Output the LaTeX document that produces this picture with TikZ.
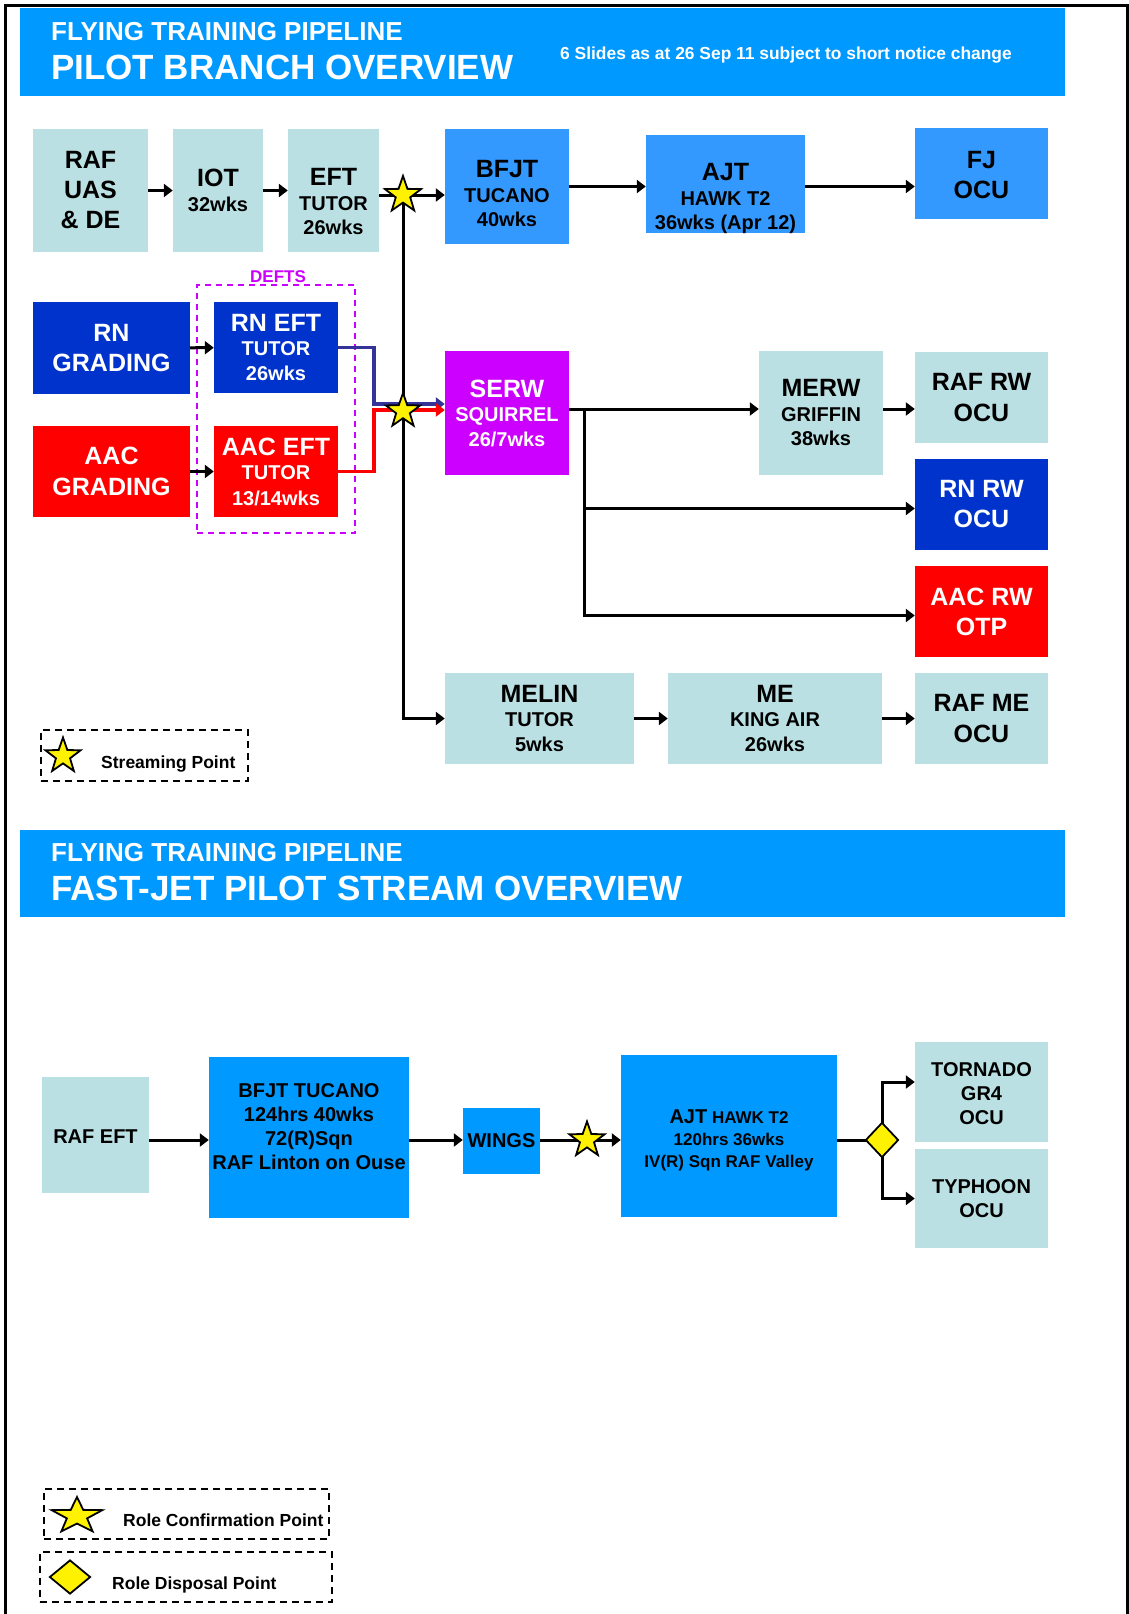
\documentclass[tikz,border=0pt]{standalone}
\usepackage{fontspec}
\setmainfont{Liberation Sans}
\usepackage{xcolor}
\usepackage{tikz}
\usetikzlibrary{arrows.meta,shapes.geometric,positioning}

\definecolor{hdrblue}{RGB}{0,153,255}
\definecolor{jetblue}{RGB}{51,153,255}
\definecolor{pale}{RGB}{187,224,227}
\definecolor{navyblue}{RGB}{0,51,204}
\definecolor{serwpink}{RGB}{204,0,255}
\definecolor{linkblue}{RGB}{51,51,153}

\newcommand\bigtxt{\fontsize{25}{30}\selectfont}
\newcommand\midtxt{\fontsize{20}{24}\selectfont}
\newcommand\smltxt{\fontsize{17}{22}\selectfont}

\tikzset{
  sz/.style 2 args={minimum width=#1,minimum height=#2},
  box/.style={rectangle,inner sep=0pt,align=center,font=\bfseries\midtxt},
  txt/.style={inner sep=0pt,align=center,font=\bfseries\midtxt},
  hdr/.style={rectangle,inner sep=0pt,fill=hdrblue},
  flow/.style={line width=3pt,-{Triangle[length=9pt,width=13pt]}},
  spoint/.style={star,star points=5,star point ratio=2.5,draw=black,fill=yellow,line width=1.8pt,minimum size=38pt,inner sep=0pt},
  dpoint/.style={diamond,draw=black,fill=yellow,line width=1.8pt,inner sep=0pt},
  legbox/.style={rectangle,draw=black,line width=2pt,dash pattern=on 7pt off 5pt,inner sep=0pt},
  legtxt/.style={anchor=base west,inner sep=0pt,font=\bfseries\fontsize{17.5}{20}\selectfont}
}

\begin{document}
\begin{tikzpicture}[x=1pt,y=-1pt]
\useasboundingbox (0,0) rectangle (1129,1614);
\draw[line width=3pt] (5,1614)--(5,5)--(1127,5)--(1127,1614);

% pilot branch header
\node[hdr,sz={1045pt}{88pt}] (hdr1) at (542.5,52) {};
\node[anchor=base west,inner sep=0pt,text=white,font=\bfseries\fontsize{26}{30}\selectfont] (hdr1a) at (51,40.3) {FLYING TRAINING PIPELINE};
\node[anchor=base west,inner sep=0pt,text=white,font=\bfseries\fontsize{35}{40}\selectfont] (hdr1b) at (51,79.5) {PILOT BRANCH OVERVIEW};
\node[anchor=base west,inner sep=0pt,text=white,font=\bfseries\fontsize{17.4}{20}\selectfont] (hdr1c) at (560,59.5) {6 Slides as at 26 Sep 11 subject to short notice change};

% top row
\node[box,fill=pale,sz={115pt}{123pt}] (raf) at (90.5,190.5) {\bigtxt RAF\\[6pt]\bigtxt UAS\\[6pt]\bigtxt \& DE};
\node[box,fill=pale,sz={90pt}{123pt}] (iot) at (218,190.5) {\bigtxt IOT\\[1pt]32wks};
\node[box,fill=pale,sz={91pt}{123pt}] (eft) at (333.5,190.5) {};
\node[txt] (eftt) at ([yshift=-11pt]eft) {\bigtxt EFT\\[1pt]TUTOR\\26wks};
\node[box,fill=jetblue,sz={124pt}{115pt}] (bfjt) at (507,186.5) {};
\node[txt] (bfjtt) at ([yshift=-7pt]bfjt) {\bigtxt BFJT\\[1pt]TUCANO\\40wks};
\node[box,fill=jetblue,sz={159pt}{98pt}] (ajt) at (725.5,184) {};
\node[txt] (ajtt) at ([yshift=-14pt]ajt) {\bigtxt AJT\\[1pt]HAWK T2\\36wks (Apr 12)};
\node[box,fill=jetblue,sz={133pt}{91pt}] (fj) at (981.5,173.5) {};
\node[txt] (fjt) at ([yshift=-2pt]fj) {\bigtxt FJ\\[6pt]\bigtxt OCU};

% DEFTS and rotary wing
\node[rectangle,draw=serwpink,line width=1.8pt,dash pattern=on 6pt off 5pt,sz={158pt}{248pt},
  label={[inner sep=1pt,text=serwpink,font=\bfseries\fontsize{17}{19}\selectfont,xshift=2pt]north:DEFTS}] (defts) at (276,409) {};
\node[box,fill=navyblue,text=white,sz={157pt}{92pt}] (rngrad) at (111.5,348) {\bigtxt RN\\[6pt]\bigtxt GRADING};
\node[box,fill=navyblue,text=white,sz={124pt}{91pt}] (rneft) at (276,347.5) {\bigtxt RN EFT\\TUTOR\\[1pt]26wks};
\node[box,fill=red,text=white,sz={157pt}{91pt}] (aacgrad) at (111.5,471.5) {\bigtxt AAC\\[7pt]\bigtxt GRADING};
\node[box,fill=red,text=white,sz={124pt}{91pt}] (aaceft) at (276,471.5) {\bigtxt AAC EFT\\TUTOR\\[2pt]13/14wks};
\node[box,fill=serwpink,text=white,sz={124pt}{124pt}] (serw) at (507,413) {\bigtxt SERW\\SQUIRREL\\[1pt]26/7wks};
\node[box,fill=pale,sz={124pt}{124pt}] (merw) at (821,413) {\bigtxt MERW\\[1pt]GRIFFIN\\38wks};
\node[box,fill=pale,sz={133pt}{91pt}] (rafrw) at (981.5,397.5) {\bigtxt RAF RW\\[7pt]\bigtxt OCU};
\node[box,fill=navyblue,text=white,sz={133pt}{91pt}] (rnrw) at (981.5,504.5) {\bigtxt RN RW\\[6pt]\bigtxt OCU};
\node[box,fill=red,text=white,sz={133pt}{91pt}] (aacrw) at (981.5,611.5) {\bigtxt AAC RW\\[6pt]\bigtxt OTP};

% multi engine
\node[box,fill=pale,sz={189pt}{91pt}] (melin) at (539.5,718.5) {\bigtxt MELIN\\TUTOR\\[1pt]5wks};
\node[box,fill=pale,sz={214pt}{91pt}] (me) at (775,718.5) {\bigtxt ME\\KING AIR\\[1pt]26wks};
\node[box,fill=pale,sz={133pt}{91pt}] (rafme) at (981.5,718.5) {\bigtxt RAF ME\\[7pt]\bigtxt OCU};

\coordinate (sp1) at (403,195);
\coordinate (sp2) at (403,411);
\draw[flow] (raf)--(iot);
\draw[flow] (iot)--(eft);
\draw[flow] (eft.east |- sp1)--(bfjt.west |- sp1);
\draw[flow] (bfjt.east)--(bfjt.east -| ajt.west);
\draw[flow] (bfjt.east -| ajt.east)--(bfjt.east -| fj.west);
\draw[flow] (sp1) |- (melin.west);
\draw[flow] (rngrad)--(rneft);
\draw[flow] (aacgrad)--(aaceft);
\draw[line width=3.5pt,linkblue,-{Triangle[length=9pt,width=13pt]}] (rneft.east)--++(36,0) |- ([yshift=9pt]serw.west);
\draw[line width=3.5pt,red,-{Triangle[length=9pt,width=13pt]}] (aaceft.east)--++(36,0) |- ([yshift=3pt]serw.west);
\coordinate (br) at ([xshift=15pt,yshift=4pt]serw.east);
\draw[flow] ([yshift=4pt]serw.east)--([yshift=4pt]merw.west);
\draw[flow] ([yshift=4pt]merw.east)--([yshift=4pt]merw.east -| rafrw.west);
\draw[flow] (br) |- ([yshift=-4pt]rnrw.west);
\draw[flow] (br) |- ([yshift=-4pt]aacrw.west);
\draw[flow] (melin)--(me);
\draw[flow] (me)--(rafme);
\node[spoint] (star1) at (sp1) {};
\node[spoint,minimum size=36pt] (star2) at (sp2) {};

\node[legbox,sz={207pt}{51pt}] (leg1) at (144.5,755.5) {};
\node[spoint,minimum size=37pt] (leg1s) at (63,756) {};
\node[legtxt] (leg1t) at (101,768) {Streaming Point};

% fast-jet stream header
\node[hdr,sz={1045pt}{87pt}] (hdr2) at (542.5,873.5) {};
\node[anchor=base west,inner sep=0pt,text=white,font=\bfseries\fontsize{26}{30}\selectfont] (hdr2a) at (51,861) {FLYING TRAINING PIPELINE};
\node[anchor=base west,inner sep=0pt,text=white,font=\bfseries\fontsize{35}{40}\selectfont] (hdr2b) at (51,900.5) {FAST-JET PILOT STREAM OVERVIEW};

\node[box,fill=pale,sz={107pt}{116pt}] (rafeft) at (95.5,1135) {};
\node[txt] (rafeftt) at ([yshift=-2pt]rafeft) {RAF EFT};
\node[box,fill=hdrblue,sz={200pt}{161pt}] (tucano) at (309,1137.5) {};
\node[txt] (tucanot) at ([yshift=11pt]tucano) {BFJT TUCANO\\124hrs 40wks\\72(R)Sqn\\RAF Linton on Ouse};
\node[box,fill=hdrblue,sz={77pt}{66pt}] (wings) at (501.5,1141) {WINGS};
\node[box,fill=hdrblue,sz={216pt}{162pt}] (hawk) at (729,1136) {};
\node[txt,font=\bfseries\smltxt] (hawkt) at ([yshift=-4pt]hawk) {{\midtxt AJT} HAWK T2\\120hrs 36wks\\IV(R) Sqn RAF Valley};
\node[box,fill=pale,sz={133pt}{100pt}] (tornado) at (981.5,1092) {};
\node[txt] (tornadot) at ([yshift=-2pt]tornado) {TORNADO\\GR4\\OCU};
\node[box,fill=pale,sz={133pt}{99pt}] (typhoon) at (981.5,1198.5) {TYPHOON\\OCU};

\coordinate (sp3) at (587,1140);
\coordinate (dp) at (882,1140);
\draw[flow] (rafeft.east |- sp3)--(tucano.west |- sp3);
\draw[flow] (tucano.east |- sp3)--(wings.west |- sp3);
\draw[flow] (wings.east |- sp3)--(hawk.west |- sp3);
\draw[line width=3pt] (hawk.east |- dp)--(dp);
\draw[flow] (dp) |- ([yshift=10pt]tornado.west);
\draw[flow] (dp) |- (typhoon.west);
\node[spoint,minimum size=37pt] (star3) at (sp3) {};
\node[dpoint,minimum width=33pt,minimum height=35pt] (disp) at (dp) {};

% key
\node[legbox,sz={285pt}{50pt}] (leg2) at (186.5,1514) {};
\node[spoint,minimum size=38pt,xscale=1.4] (leg2s) at (77,1516) {};
\node[legtxt] (leg2t) at (123,1526) {Role Confirmation Point};
\node[legbox,sz={292pt}{50pt}] (leg3) at (186,1577) {};
\node[dpoint,minimum width=41pt,minimum height=34pt] (leg3d) at (70,1577) {};
\node[legtxt] (leg3t) at (112,1589) {Role Disposal Point};
\end{tikzpicture}
\end{document}
